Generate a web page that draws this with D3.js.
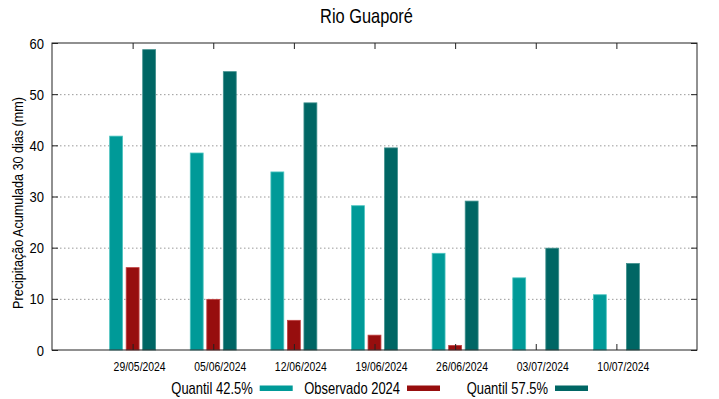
<!DOCTYPE html>
<html>
<head>
<meta charset="utf-8">
<script src="https://cdn.jsdelivr.net/npm/d3@7"></script>
<style>
  body { margin: 0; background: #fff; }
  text { font-family: "Liberation Sans", Arial, sans-serif; fill: #000; }
</style>
</head>
<body>
<svg id="chart"></svg>
<script>
const dates = ["29/05/2024", "05/06/2024", "12/06/2024", "19/06/2024", "26/06/2024", "03/07/2024", "10/07/2024"];
const q425 = [41.8, 38.5, 34.8, 28.2, 18.9, 14.1, 10.8];
const obs2024 = [16.1, 9.9, 5.8, 2.9, 0.9, 0, 0];
const q575 = [58.7, 54.4, 48.3, 39.5, 29.1, 19.9, 16.9];
const yTicks = [0, 10, 20, 30, 40, 50, 60];

const series = [
  { name: "Quantil 42.5%", values: q425, color: "#009a98", edge: "#4cc4c0", off: -1 },
  { name: "Observado 2024", values: obs2024, color: "#970e0e", edge: "#c04040", off: 0 },
  { name: "Quantil 57.5%", values: q575, color: "#006664", edge: "#3f8f8c", off: 1 }
];

const W = 719, H = 399;
const margin = { top: 43, right: 22, bottom: 49, left: 52 };
const width = W - margin.left - margin.right,
  height = H - margin.top - margin.bottom;

const svg = d3.select("#chart").attr("width", W).attr("height", H);
const g = svg.append("g").attr("transform", "translate(" + margin.left + "," + margin.top + ")");

const x = d3.scaleLinear().domain([-1, dates.length]).range([0, width]);
const y = d3.scaleLinear().domain([0, 60]).range([height, 0]);
const unit = x(1) - x(0);
const barW = 0.16 * unit, step = 0.205 * unit;

// narrow text, like the original's condensed font
function narrowText(sel, tx, ty, sx, rot) {
  sel.attr("x", null).attr("y", null).attr("dy", null)
    .attr("transform", "translate(" + tx + "," + ty + ")" + (rot ? " rotate(" + rot + ")" : "") + " scale(" + sx + ",1)");
}

// grid
g.selectAll(".grid").data(yTicks.filter(d => d > 0 && d < 60)).join("line")
  .attr("x1", 0).attr("x2", width)
  .attr("y1", d => y(d) + 0.5).attr("y2", d => y(d) + 0.5)
  .attr("stroke", "#999").attr("stroke-width", 1).attr("stroke-dasharray", "1.5,2.5");

// bars
series.forEach(s => {
  g.selectAll(".b" + s.off).data(s.values.map((v, i) => ({ v, i }))).join("rect")
    .filter(d => d.v > 0)
    .attr("x", d => x(d.i) + s.off * step - barW / 2)
    .attr("y", d => y(d.v))
    .attr("width", barW)
    .attr("height", d => y(0) - y(d.v))
    .attr("fill", s.color)
    .attr("stroke", s.edge).attr("stroke-width", 0.8);
});

// frame
g.append("rect").attr("x", 0).attr("y", 0).attr("width", width).attr("height", height)
  .attr("fill", "none").attr("stroke", "#222").attr("stroke-width", 1);

// y axis ticks (left and mirrored right)
const yAxis = g.append("g").call(d3.axisLeft(y).tickValues(yTicks).tickSize(-6));
yAxis.select(".domain").remove();
yAxis.selectAll("text").style("font-size", "14px").each(function () {
  narrowText(d3.select(this), -8, 5, 0.93);
});
const yAxisR = g.append("g").attr("transform", "translate(" + width + ",0)")
  .call(d3.axisRight(y).tickValues(yTicks).tickSize(-6).tickFormat(""));
yAxisR.select(".domain").remove();

// x axis ticks (bottom and mirrored top)
const xIdx = d3.range(dates.length);
const xAxis = g.append("g").attr("transform", "translate(0," + height + ")")
  .call(d3.axisBottom(x).tickValues(xIdx).tickSize(-6).tickFormat(i => dates[i]));
xAxis.select(".domain").remove();
xAxis.selectAll("text").style("font-size", "13px").each(function () {
  narrowText(d3.select(this), 6.5, 21, 0.8);
});
const xAxisT = g.append("g")
  .call(d3.axisTop(x).tickValues(xIdx).tickSize(-6).tickFormat(""));
xAxisT.select(".domain").remove();
svg.selectAll(".tick line").attr("stroke", "#222");

// title
svg.append("text").attr("text-anchor", "middle").style("font-size", "20px")
  .call(narrowText, 366.5, 23, 0.82).text("Rio Guaporé");

// y label
svg.append("text").attr("text-anchor", "middle").style("font-size", "14px")
  .call(narrowText, 23, 203, 0.9, -90)
  .text("Precipitação Acumulada 30 dias (mm)");

// legend
const legendX = [252.7, 400, 548];
series.forEach((s, i) => {
  svg.append("text").attr("text-anchor", "end").style("font-size", "16px")
    .call(narrowText, legendX[i], 393.5, 0.81).text(s.name);
  svg.append("rect").attr("x", legendX[i] + 7).attr("y", 385.5).attr("width", 33).attr("height", 5.5)
    .attr("fill", s.color);
});
</script>
</body>
</html>
